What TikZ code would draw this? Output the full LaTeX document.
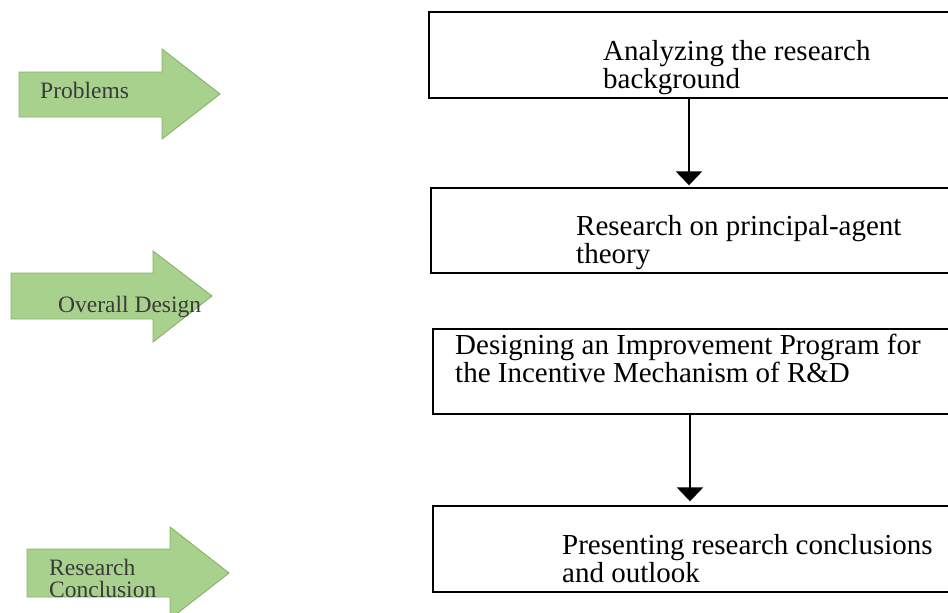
\documentclass[tikz,border=0pt]{standalone}
\usepackage{fontspec}
\setmainfont{Liberation Serif}
\usetikzlibrary{arrows.meta}
\definecolor{arrowfill}{HTML}{A9D18E}
\definecolor{arrowline}{HTML}{82B366}
\definecolor{labelgrey}{HTML}{3A3A3A}
\tikzset{
  stagebox/.style={draw=black, line width=1.4pt, inner sep=0pt},
  boxtext/.style={font=\fontsize{29}{26}\selectfont, align=left, inner sep=0pt, anchor=base west},
  phase/.style={fill=arrowfill, draw=arrowline, line width=0.9pt, line join=miter},
  phasetext/.style={font=\fontsize{23.5}{22}\selectfont, text=labelgrey, align=left, inner sep=0pt, anchor=base west},
  flow/.style={line width=2.8pt, -{Triangle[width=26pt,length=14pt]}},
}
\begin{document}
\begin{tikzpicture}[x=1pt, y=-1pt]
\useasboundingbox (0,0) rectangle (948,613);
\clip (0,0) rectangle (948,613);

% green phase arrows on the left
\draw[phase] (19,72) -- (162,72) -- (162,49) -- (220,94) -- (162,139) -- (162,117) -- (19,117) -- cycle;
\node[phasetext] (p1) at (40,98) {Problems};

\draw[phase] (11,273) -- (153,273) -- (153,251) -- (212,296) -- (153,342) -- (153,319) -- (11,319) -- cycle;
\node[phasetext] (p2) at (58,312) {Overall Design};

\draw[phase] (27,549) -- (170,549) -- (170,527) -- (229,573) -- (170,619) -- (170,597) -- (27,597) -- cycle;
\node[phasetext] (p3) at (49,597) {Research\\Conclusion};

% process boxes (open to the right edge)
\node[stagebox, minimum width=526pt, minimum height=86pt] (b1) at (692,55) {};
\node[stagebox, minimum width=524pt, minimum height=85pt] (b2) at (693,230.5) {};
\node[stagebox, minimum width=522pt, minimum height=85pt] (b3) at (694,371.5) {};
\node[stagebox, minimum width=522pt, minimum height=86pt] (b4) at (694,549) {};

% multi-line texts are placed by the baseline of their last line
\node[boxtext] (t1) at (603,88) {Analyzing the research\\background};
\node[boxtext] (t2) at (576,263) {Research on principal-agent\\theory};
\node[boxtext] (t3) at (455,382) {Designing an Improvement Program for\\the Incentive Mechanism of R\&D};
\node[boxtext] (t4) at (562,582) {Presenting research conclusions\\and outlook};

% connectors
\coordinate (c1) at (689,0);
\coordinate (c2) at (690,0);
\draw[flow, shorten >=2pt] (b1.south -| c1) -- (b2.north -| c1);
\draw[flow, shorten >=4pt] (b3.south -| c2) -- (b4.north -| c2);
\end{tikzpicture}
\end{document}
